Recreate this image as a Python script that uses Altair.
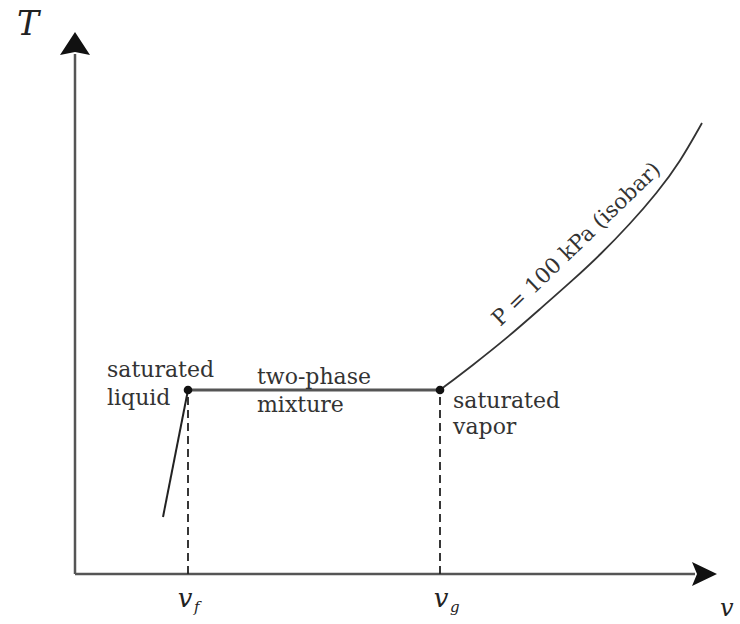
import altair as alt
import pandas as pd

# ---- data (v and T in arbitrary diagram units) ----
v_f = 11.3
v_g = 36.5
T_sat = 18.4

liquid_v = [8.8, 11.3]
liquid_T = [5.7, 18.4]

mix_v = [v_f, v_g]
mix_T = [T_sat, T_sat]

vapor_v = [36.5, 39.8, 43.2, 46.5, 49.8, 52.5, 55.5, 58.2, 60.5, 62.7]
vapor_T = [18.4, 20.9, 23.6, 26.5, 29.4, 31.9, 35.0, 38.1, 41.2, 45.1]

sat_v = [v_f, v_g]
sat_T = [T_sat, T_sat]

state_labels = ["saturated", "liquid", "two-phase", "mixture", "saturated", "vapor"]
state_v = [3.2, 3.2, 18.2, 18.2, 37.8, 37.8]
state_T = [19.7, 16.9, 19.0, 16.2, 16.6, 14.0]

isobar_label = ["P = 100 kPa (isobar)"]
isobar_v = [50.6]
isobar_T = [32.5]

tick_main = ["v", "v"]
tick_main_v = [11.0, 36.6]
tick_main_T = [-3.3, -3.3]
tick_sub = ["f", "g"]
tick_sub_v = [11.9, 37.5]
tick_sub_T = [-3.8, -3.8]

axis_titles = ["T", "v"]
axis_title_v = [-4.7, 64.5]
axis_title_T = [53.9, -4.2]
axis_title_align = ["center", "left"]

x_axis_end = 62.0
y_axis_end = 52.0
y_arrow = (0.0, 53.05)
x_arrow = (62.95, 0.0)

# ---- scales ----
xs = alt.Scale(domain=[-7.5, 66.5], nice=False, zero=False)
ys = alt.Scale(domain=[-5.0, 57.4], nice=False, zero=False)


def X(field="v"):
    return alt.X(f"{field}:Q", scale=xs, axis=None)


def Y(field="T"):
    return alt.Y(f"{field}:Q", scale=ys, axis=None)


serif = "DejaVu Serif"
ink = "#333333"

# axes lines
yaxis_df = pd.DataFrame({"v": [0.0], "T": [0.0], "T2": [y_axis_end]})
xaxis_df = pd.DataFrame({"v": [0.0], "v2": [x_axis_end], "T": [0.0]})
yaxis = alt.Chart(yaxis_df).mark_rule(color="#555555", strokeWidth=2.5).encode(
    x=X(), y=Y(), y2="T2:Q")
xaxis = alt.Chart(xaxis_df).mark_rule(color="#555555", strokeWidth=2.5).encode(
    x=X(), x2="v2:Q", y=Y())

yarrow = alt.Chart(pd.DataFrame({"v": [y_arrow[0]], "T": [y_arrow[1]]})).mark_point(
    shape="M0,-0.77L1,0.77L0,0.57L-1,0.77Z", size=900, filled=True,
    color="#111111", opacity=1).encode(x=X(), y=Y())
xarrow = alt.Chart(pd.DataFrame({"v": [x_arrow[0]], "T": [x_arrow[1]]})).mark_point(
    shape="M1,0L-1,-0.96L-0.6,0L-1,0.96Z", size=625, filled=True,
    color="#111111", opacity=1).encode(x=X(), y=Y())

# dashed drop lines
dash_df = pd.DataFrame({"v": sat_v, "T": [0.0, 0.0], "T2": sat_T})
dashes = alt.Chart(dash_df).mark_rule(
    color="#222222", strokeWidth=1.8, strokeDash=[8, 5]).encode(
    x=X(), y=Y(), y2="T2:Q")

# process curves
liquid = alt.Chart(pd.DataFrame({"v": liquid_v, "T": liquid_T})).mark_line(
    color="#222222", strokeWidth=2).encode(x=X(), y=Y())
mix = alt.Chart(pd.DataFrame({"v": mix_v, "T": mix_T})).mark_line(
    color="#555555", strokeWidth=3).encode(x=X(), y=Y())
vapor_df = pd.DataFrame({"v": vapor_v, "T": vapor_T, "o": list(range(len(vapor_v)))})
vapor = alt.Chart(vapor_df).mark_line(
    color="#333333", strokeWidth=1.8, interpolate="basis").encode(
    x=X(), y=Y(), order="o:Q")

dots = alt.Chart(pd.DataFrame({"v": sat_v, "T": sat_T})).mark_point(
    filled=True, size=75, color="#111111", opacity=1).encode(x=X(), y=Y())

# labels
states = alt.Chart(pd.DataFrame({"v": state_v, "T": state_T, "t": state_labels})).mark_text(
    font=serif, fontSize=22, color=ink, align="left", baseline="alphabetic").encode(
    x=X(), y=Y(), text="t:N")

isobar = alt.Chart(pd.DataFrame({"v": isobar_v, "T": isobar_T, "t": isobar_label})).mark_text(
    font=serif, fontSize=21.5, color=ink, align="center", baseline="alphabetic",
    angle=316).encode(x=X(), y=Y(), text="t:N")

ticks_main = alt.Chart(pd.DataFrame({"v": tick_main_v, "T": tick_main_T, "t": tick_main})).mark_text(
    font=serif, fontSize=26, fontStyle="italic", color="#222222",
    align="center", baseline="alphabetic").encode(x=X(), y=Y(), text="t:N")
ticks_sub = alt.Chart(pd.DataFrame({"v": tick_sub_v, "T": tick_sub_T, "t": tick_sub})).mark_text(
    font=serif, fontSize=15, fontStyle="italic", color="#222222",
    align="left", baseline="alphabetic").encode(x=X(), y=Y(), text="t:N")

title_T = alt.Chart(pd.DataFrame({"v": axis_title_v[:1], "T": axis_title_T[:1], "t": axis_titles[:1]})).mark_text(
    font=serif, fontSize=33, fontStyle="italic", color="#222222",
    align=axis_title_align[0], baseline="alphabetic").encode(x=X(), y=Y(), text="t:N")
title_v = alt.Chart(pd.DataFrame({"v": axis_title_v[1:], "T": axis_title_T[1:], "t": axis_titles[1:]})).mark_text(
    font=serif, fontSize=24, fontStyle="italic", color="#222222",
    align=axis_title_align[1], baseline="alphabetic").encode(x=X(), y=Y(), text="t:N")

chart = alt.layer(
    yaxis, xaxis, yarrow, xarrow, dashes, liquid, mix, vapor, dots,
    states, isobar, ticks_main, ticks_sub, title_T, title_v
).properties(
    width=740, height=624, padding=0, autosize=alt.AutoSizeParams(type="none"),
    background="white"
).configure_view(stroke=None)

chart.save("out.html", embed_options={"renderer": "svg", "actions": False})
